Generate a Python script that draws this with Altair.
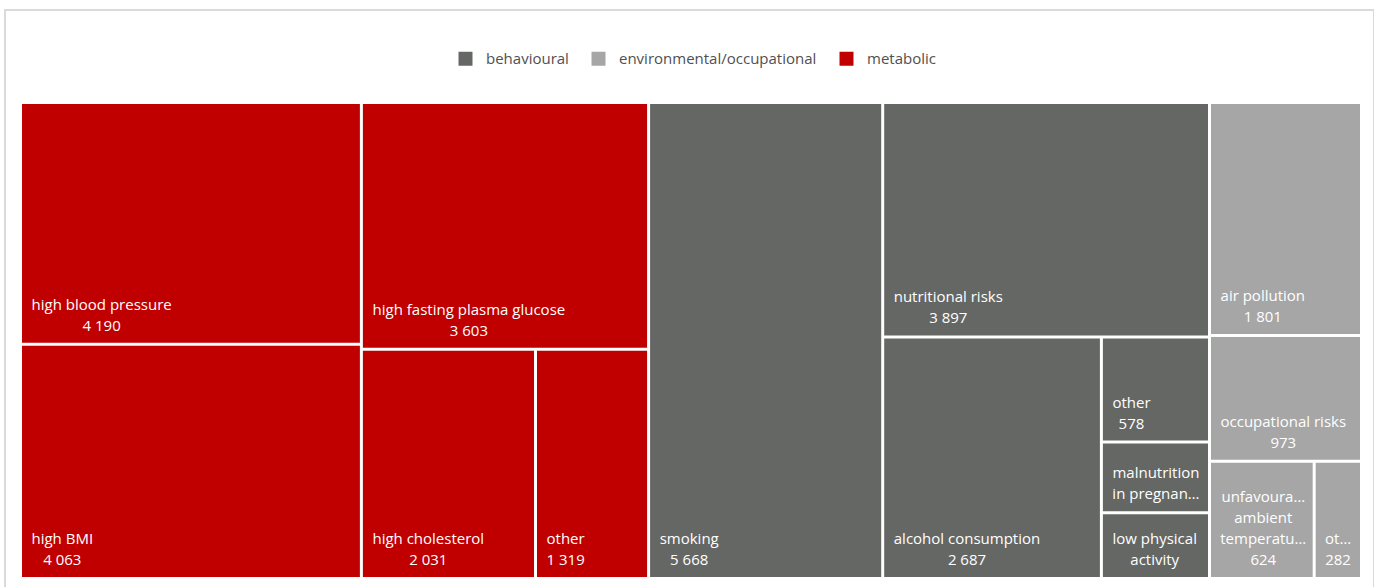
import math
import altair as alt
import pandas as pd

# ---------------- data ----------------
groups = ["metabolic"] * 5 + ["behavioural"] * 6 + ["environmental/occupational"] * 4
names = [
    "high blood pressure", "high BMI", "high fasting plasma glucose", "high cholesterol", "other",
    "smoking", "nutritional risks", "alcohol consumption", "other",
    "malnutrition in pregnancy", "low physical activity",
    "air pollution", "occupational risks", "unfavourable ambient temperature", "other",
]
values = [4190, 4063, 3603, 2031, 1319,
          5668, 3897, 2687, 578, 389, 361,
          1801, 973, 624, 282]
legend_order = ["behavioural", "environmental/occupational", "metabolic"]
colors = ["#656765", "#a6a6a6", "#c00000"]

# ---------------- layout settings ----------------
CHART_W, CHART_H = 1369, 600
AREA_X, AREA_Y, AREA_W, AREA_H = 15.5, 92.5, 1341.0, 476.0
GAP = 3.0
FONT = "Open Sans"
FS = 15
LH = 21

# approximate glyph advances (em) for width estimation
_cw = {' ': 0.26, 'a': 0.556, 'b': 0.613, 'c': 0.476, 'd': 0.613, 'e': 0.561, 'f': 0.339,
       'g': 0.548, 'h': 0.614, 'i': 0.253, 'j': 0.253, 'k': 0.525, 'l': 0.253, 'm': 0.930,
       'n': 0.614, 'o': 0.604, 'p': 0.613, 'q': 0.613, 'r': 0.408, 's': 0.477, 't': 0.353,
       'u': 0.614, 'v': 0.501, 'w': 0.778, 'x': 0.524, 'y': 0.502, 'z': 0.477, 'B': 0.648,
       'M': 0.887, 'I': 0.279, '\u2026': 0.75, '/': 0.37}


def tw(s):
    return sum(_cw.get(ch, 0.572) for ch in s) * FS


def trunc(s, avail):
    if tw(s) <= avail:
        return s
    while s and tw(s + "\u2026") > avail:
        s = s[:-1]
    return s + "\u2026"


def worst(row, side, scale):
    area = sum(row) * scale
    t = area / side
    r = 0
    for v in row:
        l = v * scale / t
        r = max(r, t / l, l / t)
    return r


def squarify(vals, x, y, w, h):
    rects = []
    remaining = float(sum(vals))
    i = 0
    while i < len(vals):
        scale = w * h / remaining
        side = min(w, h)
        row = [vals[i]]
        best = worst(row, side, scale)
        j = i + 1
        while j < len(vals):
            cand = row + [vals[j]]
            wv = worst(cand, side, scale)
            if wv > best:
                break
            row, best = cand, wv
            j += 1
        rs = sum(row)
        t = rs * scale / side
        if w >= h:
            yy = y
            for v in row:
                l = v * scale / t
                rects.append((x, yy, t, l))
                yy += l
            x += t
            w -= t
        else:
            xx = x
            for v in row:
                l = v * scale / t
                rects.append((xx, y, l, t))
                xx += l
            y += t
            h -= t
        remaining -= rs
        i = j
    return rects


df = pd.DataFrame({"group": groups, "name": names, "value": values})
gtot = df.groupby("group")["value"].sum().sort_values(ascending=False)
grects = squarify(list(gtot.values), AREA_X, AREA_Y, AREA_W, AREA_H)

rows = []
for (g, _), (gx, gy, gw, gh) in zip(gtot.items(), grects):
    sub = df[df.group == g].sort_values("value", ascending=False)
    lr = squarify(list(sub.value), gx, gy, gw, gh)
    for (_, r), (x, y, w, h) in zip(sub.iterrows(), lr):
        x0, y0, x1, y1 = x + GAP / 2, y + GAP / 2, x + w - GAP / 2, y + h - GAP / 2
        vw, vh = x1 - x0, y1 - y0
        avail = vw - 15.5
        maxl = max(1, int((vh - 16) // LH))
        words = r["name"].split()
        lines, cur = [], ""
        for wd in words:
            test = (cur + " " + wd) if cur else wd
            if not cur or tw(test) <= avail:
                cur = test
            else:
                lines.append(cur)
                cur = wd
        lines.append(cur)
        if len(lines) > maxl:
            lines = lines[:maxl - 1] + [" ".join(lines[maxl - 1:])]
        lines = [trunc(l, avail) for l in lines]
        vtxt = f"{int(r['value']):,}".replace(",", " ")
        if len(lines) + 1 <= maxl:
            lines.append(trunc(vtxt, avail))
        bw = max(tw(l) for l in lines)
        rows.append({
            "group": g, "name": r["name"], "value": int(r["value"]),
            "x0": x0, "x1": x1, "y0": y0, "y1": y1,
            "cx": x0 + 9.5 + bw / 2,
            "ty": y1 - 12 - (len(lines) - 1) * LH,
            "label": "\n".join(lines),
        })

data = pd.DataFrame(rows)

xs = alt.Scale(domain=[0, CHART_W], nice=False, zero=False)
ys = alt.Scale(domain=[0, CHART_H], nice=False, zero=False, reverse=True)

base = alt.Chart(data)
rects = base.mark_rect(strokeWidth=0).encode(
    x=alt.X("x0:Q", scale=xs, axis=None),
    x2="x1:Q",
    y=alt.Y("y0:Q", scale=ys, axis=None),
    y2="y1:Q",
    color=alt.Color("group:N", scale=alt.Scale(domain=legend_order, range=colors),
                    legend=alt.Legend(title=None, orient="none", direction="horizontal",
                                      legendX=453, legendY=41, symbolType="square",
                                      symbolSize=196, symbolStrokeWidth=0, labelFontSize=15,
                                      labelFont=FONT, labelColor="#505050", labelOffset=13,
                                      labelLimit=400, columnPadding=22, padding=0)),
    tooltip=["group:N", "name:N", "value:Q"],
)
texts = base.mark_text(align="center", baseline="alphabetic", lineBreak="\n", lineHeight=LH,
                       font=FONT, fontSize=FS, color="white").encode(
    x=alt.X("cx:Q", scale=xs, axis=None),
    y=alt.Y("ty:Q", scale=ys, axis=None),
    text="label:N",
)

chart = alt.layer(rects, texts).properties(
    width=CHART_W, height=CHART_H,
    autosize=alt.AutoSizeParams(type="none"),
    padding={"left": 5, "top": 10, "right": 0, "bottom": 0},
    background="white",
).configure_view(stroke="#dadada", strokeWidth=2)

chart.save("out.html", embed_options={"renderer": "svg", "actions": False})
